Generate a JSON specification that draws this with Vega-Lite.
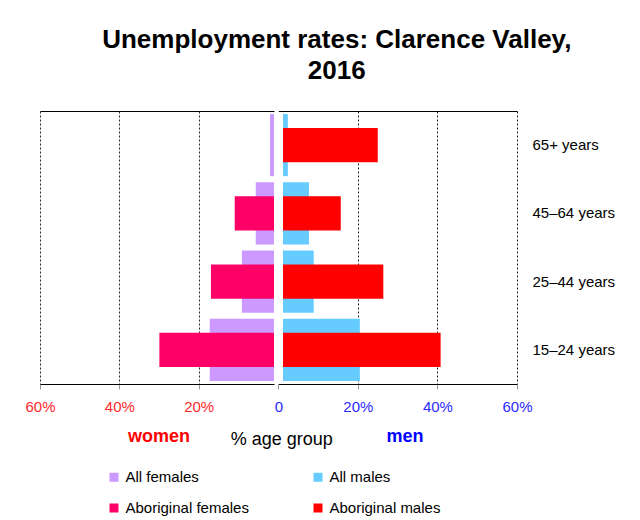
{
  "$schema": "https://vega.github.io/schema/vega-lite/v6.json",
  "padding": {"left": 24, "top": 27, "right": 5, "bottom": 5},
  "background": "white",
  "title": {
    "text": ["Unemployment rates: Clarence Valley,", "2016"],
    "fontSize": 26,
    "fontWeight": "bold",
    "lineHeight": 31,
    "anchor": "middle",
    "frame": "bounds",
    "offset": 27,
    "dx": 17,
    "color": "#000000"
  },
  "datasets": {
    "rates": [
      {"age": "65+ years", "sex": "F", "group": "All", "series": "All females", "value": 2.0},
      {"age": "65+ years", "sex": "F", "group": "Aboriginal", "series": "Aboriginal females", "value": 0},
      {"age": "65+ years", "sex": "M", "group": "All", "series": "All males", "value": 2.4},
      {"age": "65+ years", "sex": "M", "group": "Aboriginal", "series": "Aboriginal males", "value": 25.0},
      {"age": "45–64 years", "sex": "F", "group": "All", "series": "All females", "value": 5.6},
      {"age": "45–64 years", "sex": "F", "group": "Aboriginal", "series": "Aboriginal females", "value": 10.9},
      {"age": "45–64 years", "sex": "M", "group": "All", "series": "All males", "value": 7.7},
      {"age": "45–64 years", "sex": "M", "group": "Aboriginal", "series": "Aboriginal males", "value": 15.7},
      {"age": "25–44 years", "sex": "F", "group": "All", "series": "All females", "value": 9.1},
      {"age": "25–44 years", "sex": "F", "group": "Aboriginal", "series": "Aboriginal females", "value": 16.9},
      {"age": "25–44 years", "sex": "M", "group": "All", "series": "All males", "value": 8.9},
      {"age": "25–44 years", "sex": "M", "group": "Aboriginal", "series": "Aboriginal males", "value": 26.4},
      {"age": "15–24 years", "sex": "F", "group": "All", "series": "All females", "value": 17.2},
      {"age": "15–24 years", "sex": "F", "group": "Aboriginal", "series": "Aboriginal females", "value": 29.9},
      {"age": "15–24 years", "sex": "M", "group": "All", "series": "All males", "value": 20.5},
      {"age": "15–24 years", "sex": "M", "group": "Aboriginal", "series": "Aboriginal males", "value": 40.8}
    ]
  },
  "vconcat": [
    {
      "title": {
        "text": "% age group",
        "orient": "bottom",
        "frame": "bounds",
        "anchor": "middle",
        "fontSize": 18,
        "fontWeight": "normal",
        "color": "#000000",
        "offset": -14,
        "dx": -38
      },
      "bounds": "flush",
      "spacing": 9,
      "hconcat": [
        {
          "width": 234,
          "height": 273,
          "data": {"name": "rates"},
          "transform": [{"filter": "datum.sex === 'F'"}],
          "encoding": {
            "y": {
              "field": "age", "type": "nominal",
              "sort": ["65+ years", "45–64 years", "25–44 years", "15–24 years"],
              "scale": {"paddingInner": 0, "paddingOuter": 0},
              "axis": null
            },
            "color": {
              "field": "series", "type": "nominal",
              "scale": {
                "domain": ["All females", "All males", "Aboriginal females", "Aboriginal males"],
                "range": ["#CC99FF", "#66CCFF", "#FF0066", "#FF0000"]
              },
              "legend": {
                "orient": "none", "legendX": 66.5, "legendY": 358.5,
                "direction": "horizontal",
                "columns": 2, "columnPadding": 61, "rowPadding": 15,
                "symbolType": "square", "symbolSize": 81, "symbolStrokeWidth": 0,
                "labelFontSize": 15, "labelOffset": 4, "labelColor": "#000000",
                "title": null, "padding": 0
              }
            }
          },
          "layer": [
            {
              "transform": [{"filter": "datum.group === 'All'"}],
              "mark": {"type": "bar", "height": {"band": 0.91}, "clip": true},
              "encoding": {
                "x": {
                  "field": "value", "type": "quantitative",
                  "scale": {"domain": [1, 60], "reverse": true, "zero": false, "nice": false},
                  "axis": {
                    "orient": "bottom", "values": [20, 40, 60], "grid": false,
                    "labelExpr": "datum.value + '%'",
                    "labelColor": "#FF2A2A", "labelFontSize": 15, "labelPadding": 10,
                    "labelFlush": false, "labelOverlap": false,
                    "tickSize": 5, "tickColor": "#999999",
                    "domainColor": "#000000", "domainWidth": 1,
                    "title": "women", "titleFontSize": 18, "titleFontWeight": "bold",
                    "titleColor": "#FF0000", "titlePadding": 13, "titleX": 118.5
                  }
                },
                "x2": {"datum": 0}
              }
            },
            {
              "transform": [{"filter": "datum.group === 'Aboriginal'"}],
              "mark": {"type": "bar", "height": {"band": 0.5}, "clip": true},
              "encoding": {
                "x": {
                  "field": "value", "type": "quantitative",
                  "axis": {
                    "orient": "top", "values": [20, 40, 60], "grid": true,
                    "gridColor": "#222222", "gridDash": [2, 2], "gridWidth": 1,
                    "labels": false, "ticks": false, "title": null,
                    "domainColor": "#000000", "domainWidth": 1
                  }
                },
                "x2": {"datum": 0}
              }
            }
          ]
        },
        {
          "width": 234,
          "height": 273,
          "data": {"name": "rates"},
          "transform": [{"filter": "datum.sex === 'M'"}],
          "encoding": {
            "y": {
              "field": "age", "type": "nominal",
              "sort": ["65+ years", "45–64 years", "25–44 years", "15–24 years"],
              "scale": {"paddingInner": 0, "paddingOuter": 0},
              "axis": {
                "orient": "right", "title": null, "domain": false, "ticks": false,
                "labelFontSize": 15, "labelPadding": 15, "labelColor": "#000000"
              }
            },
            "color": {"field": "series", "type": "nominal"}
          },
          "layer": [
            {
              "transform": [{"filter": "datum.group === 'All'"}],
              "mark": {"type": "bar", "height": {"band": 0.91}, "clip": true},
              "encoding": {
                "x": {
                  "field": "value", "type": "quantitative",
                  "scale": {"domain": [0, 60], "range": [-4.7, 234], "nice": false},
                  "axis": {
                    "orient": "bottom", "values": [0, 20, 40, 60], "grid": false,
                    "labelExpr": "datum.value == 0 ? '0' : datum.value + '%'",
                    "labelColor": "#2A2AFF", "labelFontSize": 15, "labelPadding": 10,
                    "labelFlush": false, "labelOverlap": false,
                    "tickSize": 5, "tickColor": "#999999",
                    "domainColor": "#000000", "domainWidth": 1,
                    "title": "men", "titleFontSize": 18, "titleFontWeight": "bold",
                    "titleColor": "#0000FF", "titlePadding": 13, "titleX": 121.5
                  }
                },
                "x2": {"datum": 0}
              }
            },
            {
              "transform": [{"filter": "datum.group === 'Aboriginal'"}],
              "mark": {"type": "bar", "height": {"band": 0.5}, "clip": true},
              "encoding": {
                "x": {
                  "field": "value", "type": "quantitative",
                  "axis": {
                    "orient": "top", "values": [20, 40, 60], "grid": true,
                    "gridColor": "#222222", "gridDash": [2, 2], "gridWidth": 1,
                    "labels": false, "ticks": false, "title": null,
                    "domainColor": "#000000", "domainWidth": 1
                  }
                },
                "x2": {"datum": 0}
              }
            }
          ]
        }
      ]
    }
  ],
  "config": {
    "font": "Liberation Sans",
    "view": {"stroke": null},
    "axis": {"labelFont": "Liberation Sans", "titleFont": "Liberation Sans"},
    "legend": {"labelFont": "Liberation Sans"},
    "title": {"font": "Liberation Sans"}
  }
}
